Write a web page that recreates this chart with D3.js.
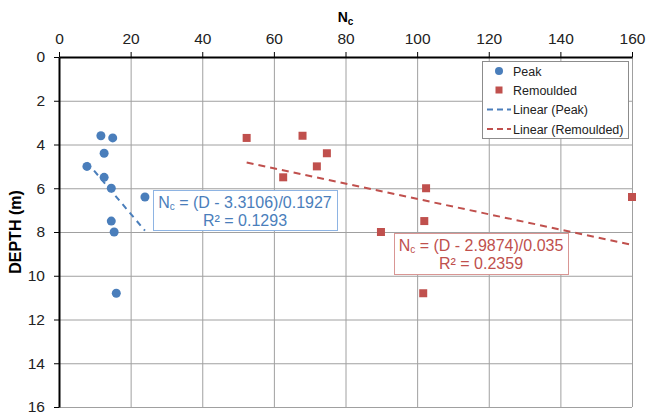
<!DOCTYPE html>
<html>
<head>
<meta charset="utf-8">
<script src="https://cdn.jsdelivr.net/npm/d3@7"></script>
<style>
  body { margin: 0; background: #fff; }
  svg { display: block; font-family: Arial, "Liberation Sans", sans-serif; }
</style>
</head>
<body>
<svg id="chart" width="646" height="416"></svg>
<script>
// data
const peakNc = [11.7, 15.0, 12.6, 7.8, 12.6, 14.6, 24.0, 14.6, 15.4, 16.0]
const peakDepth = [3.6, 3.7, 4.4, 5.0, 5.5, 6.0, 6.4, 7.5, 8.0, 10.8]
const remNc = [52.4, 68.0, 74.8, 72.0, 62.6, 102.5, 160, 102.0, 89.9, 101.7]
const remDepth = [3.7, 3.6, 4.4, 5.0, 5.5, 6.0, 6.4, 7.5, 8.0, 10.8]
// trendline fits: D = intercept + slope * Nc
const peakFit = { intercept: 3.3106, slope: 0.1927, r2: "0.1293" }
const remFit = { intercept: 2.9874, slope: 0.035, r2: "0.2359" }
const ncTicks = [0, 20, 40, 60, 80, 100, 120, 140, 160]
const depthTicks = [0, 2, 4, 6, 8, 10, 12, 14, 16]
const legendLabels = ["Peak", "Remoulded", "Linear (Peak)", "Linear (Remoulded)"]

const blue = "#4a7ebb"
const red = "#c0504d"
const margin = { left: 59, right: 14, top: 57, bottom: 9 }
const width = 646
const height = 416

const svg = d3.select("#chart")

const x = d3.scaleLinear([0, 160], [margin.left, width - margin.right])
const y = d3.scaleLinear([0, 16], [margin.top, height - margin.bottom])

// grid
const grid = svg.append("g").attr("stroke", "#a0a0a0").attr("stroke-width", 1)
grid.selectAll(".gx").data(ncTicks).enter().append("line")
  .attr("x1", d => x(d) + 0.5).attr("x2", d => x(d) + 0.5)
  .attr("y1", y(0)).attr("y2", y(16))
grid.selectAll(".gy").data(depthTicks).enter().append("line")
  .attr("y1", d => y(d) + 0.5).attr("y2", d => y(d) + 0.5)
  .attr("x1", x(0)).attr("x2", x(160))

// axes
const xAxis = svg.append("g")
  .attr("transform", `translate(0,${y(0)})`)
  .call(d3.axisTop(x).tickValues(ncTicks).tickSize(5).tickPadding(8).tickSizeOuter(0))
const yAxis = svg.append("g")
  .attr("transform", `translate(${x(0)},0)`)
  .call(d3.axisLeft(y).tickValues(depthTicks).tickSize(5).tickPadding(9).tickSizeOuter(0))
for (const ax of [xAxis, yAxis]) {
  ax.select(".domain").attr("stroke", "#000").attr("stroke-width", 2)
  ax.selectAll(".tick line").attr("stroke", "#000").attr("stroke-width", 1)
  ax.selectAll(".tick text").attr("fill", "#222").style("font-size", "15.5px")
    .style("font-family", "Arial, 'Liberation Sans', sans-serif")
}

// axis titles
const xt = svg.append("text")
  .attr("x", (x(0) + x(160)) / 2).attr("y", 22)
  .attr("text-anchor", "middle")
  .style("font-size", "14px").style("font-weight", "bold")
xt.append("tspan").text("N")
xt.append("tspan").text("c").style("font-size", "10px").attr("dy", 3)

svg.append("text")
  .attr("transform", `translate(20.5,${(y(0) + y(16)) / 2}) rotate(-90)`)
  .attr("text-anchor", "middle")
  .style("font-size", "16px").style("font-weight", "bold")
  .text("DEPTH (m)")

// trendlines
function trend(ncs, fit, color, dash) {
  const ext = d3.extent(ncs)
  svg.append("line")
    .attr("x1", x(ext[0])).attr("y1", y(fit.intercept + fit.slope * ext[0]))
    .attr("x2", x(ext[1])).attr("y2", y(fit.intercept + fit.slope * ext[1]))
    .attr("stroke", color).attr("stroke-width", 2)
    .attr("stroke-dasharray", dash)
}
trend(peakNc, peakFit, blue, "6,5")
trend(remNc, remFit, red, "7,5")

// points
svg.append("g").selectAll("circle")
  .data(peakNc.map((d, i) => [d, peakDepth[i]]))
  .enter().append("circle")
  .attr("cx", d => x(d[0])).attr("cy", d => y(d[1]))
  .attr("r", 4.5).attr("fill", blue)

svg.append("g").selectAll("rect")
  .data(remNc.map((d, i) => [d, remDepth[i]]))
  .enter().append("rect")
  .attr("x", d => x(d[0]) - 4).attr("y", d => y(d[1]) - 4)
  .attr("width", 8).attr("height", 8).attr("fill", red)

// equation labels
function eqLabel(bx, by, bw, bh, fit, color, border) {
  const g = svg.append("g")
  g.append("rect").attr("x", bx + 0.5).attr("y", by + 0.5).attr("width", bw).attr("height", bh)
    .attr("fill", "#fff").attr("stroke", border).attr("stroke-width", 1)
  const t1 = g.append("text").attr("x", bx + bw / 2).attr("y", by + 17.5)
    .attr("text-anchor", "middle").attr("fill", color).style("font-size", "16px")
  t1.append("tspan").text("N")
  t1.append("tspan").text("c").style("font-size", "10px").attr("dy", 2)
  t1.append("tspan").text(` = (D - ${fit.intercept})/${fit.slope}`).attr("dy", -2)
  g.append("text").attr("x", bx + bw / 2).attr("y", by + 35.5)
    .attr("text-anchor", "middle").attr("fill", color).style("font-size", "16px")
    .text(`R² = ${fit.r2}`)
}
eqLabel(153, 190, 184, 40, peakFit, blue, "#8eb4e3")
eqLabel(394, 233, 174, 41, remFit, red, "#d99694")

// legend
const lg = svg.append("g")
lg.append("rect").attr("x", 482.5).attr("y", 61.5).attr("width", 146).attr("height", 77)
  .attr("fill", "#fff").attr("stroke", "#8c8c8c")
const rowY = [71, 90, 109.5, 129]
lg.append("circle").attr("cx", 499).attr("cy", rowY[0]).attr("r", 4).attr("fill", blue)
lg.append("rect").attr("x", 495.5).attr("y", rowY[1] - 3.5).attr("width", 7).attr("height", 7).attr("fill", red)
lg.append("line").attr("x1", 487).attr("x2", 511).attr("y1", rowY[2]).attr("y2", rowY[2])
  .attr("stroke", blue).attr("stroke-width", 2).attr("stroke-dasharray", "6,4")
lg.append("line").attr("x1", 487).attr("x2", 511).attr("y1", rowY[3]).attr("y2", rowY[3])
  .attr("stroke", red).attr("stroke-width", 2).attr("stroke-dasharray", "6,4")
lg.selectAll("text").data(legendLabels).enter().append("text")
  .attr("x", 513).attr("y", (d, i) => rowY[i] + 4.5)
  .attr("fill", "#222").style("font-size", "12.5px")
  .text(d => d)
</script>
</body>
</html>
